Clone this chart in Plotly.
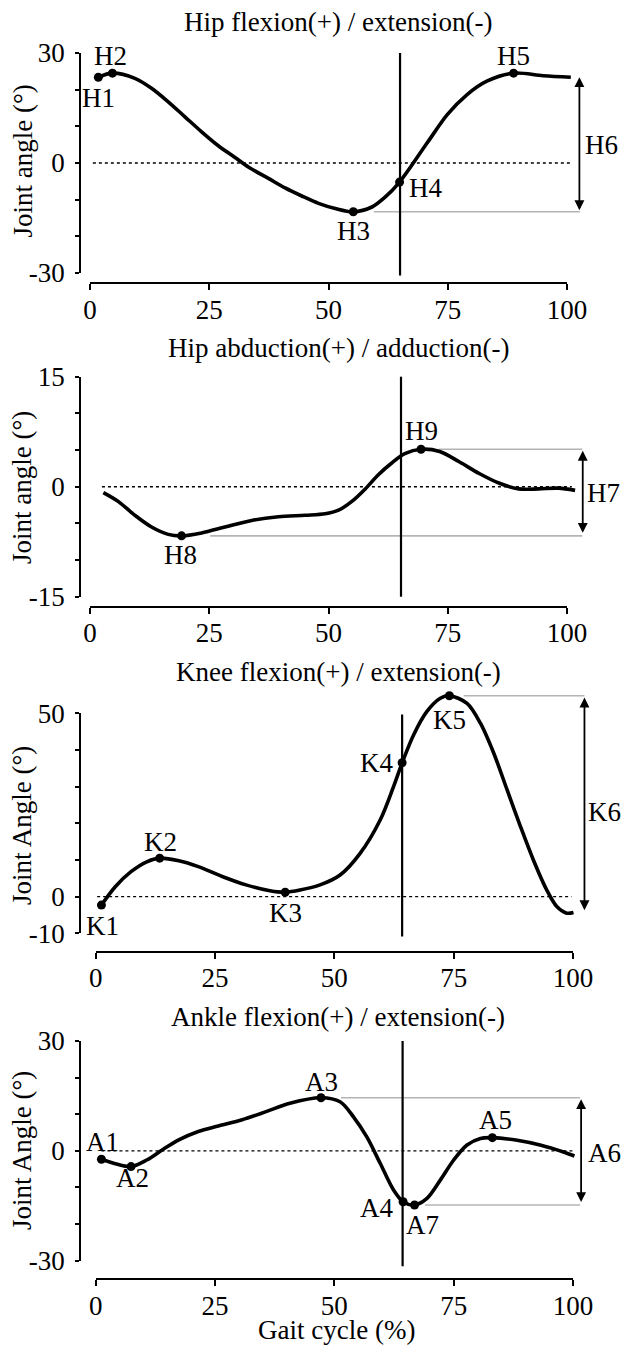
import plotly.graph_objects as go

FONT = "Liberation Serif"
FS = 27
W, H = 622, 1346

# ---------------- data ----------------
# Panel 1: hip flexion / extension
hipf_x = [1.75, 4.7, 9.4, 12.9, 16.4, 19.9, 23.4, 26.9, 30.4, 33.2, 37.4, 40.9, 44.4, 47.9, 51.4, 55.2, 59.1, 61.8, 64.9, 70.7, 74.9, 79.0, 83.2, 88.8, 95.0, 100.8]
hipf_y = [23.4, 24.5, 23.1, 20.4, 16.7, 12.6, 8.5, 4.7, 1.5, -1.1, -4.2, -6.8, -9.0, -11.0, -12.4, -13.3, -12.0, -9.4, -5.2, 5.5, 13.2, 18.6, 22.3, 24.5, 23.8, 23.4]
hipf_pts = ["H1", "H2", "H3", "H4", "H5"]
hipf_px = [1.75, 4.7, 55.2, 64.9, 88.8]
hipf_py = [23.4, 24.5, -13.3, -5.2, 24.5]

# Panel 2: hip abduction / adduction
hipa_x = [2.8, 5.9, 9.4, 12.9, 16.4, 19.2, 23.4, 28.3, 33.9, 39.5, 45.1, 49.3, 52.1, 54.9, 57.7, 60.4, 63.2, 66.0, 69.4, 73.3, 77.4, 81.6, 85.7, 89.9, 94.0, 98.2, 101.7]
hipa_y = [-0.8, -2.0, -3.9, -5.5, -6.5, -6.7, -6.3, -5.5, -4.6, -4.1, -3.9, -3.7, -3.2, -2.0, -0.3, 1.6, 3.2, 4.5, 5.1, 4.8, 3.4, 1.8, 0.5, -0.3, -0.3, -0.2, -0.5]
hipa_pts = ["H8", "H9"]
hipa_px = [19.2, 69.4]
hipa_py = [-6.7, 5.1]

# Panel 3: knee flexion / extension
knee_x = [1.2, 4.1, 7.4, 10.7, 13.4, 17.4, 21.5, 26.5, 31.5, 36.5, 39.7, 42.8, 47.0, 51.2, 55.4, 59.6, 62.4, 64.2, 66.6, 69.4, 72.2, 74.1, 77.8, 80.6, 83.4, 86.2, 89.0, 91.7, 94.5, 96.6, 98.7, 100.1]
knee_y = [-2.3, 2.7, 6.8, 9.5, 10.5, 9.8, 8.2, 5.5, 3.2, 1.6, 1.2, 1.8, 3.2, 5.9, 11.8, 20.9, 30.0, 36.5, 44.1, 50.5, 54.1, 54.8, 52.7, 47.3, 39.1, 29.1, 19.1, 10.0, 1.8, -2.7, -4.5, -4.3]
knee_pts = ["K1", "K2", "K3", "K4", "K5"]
knee_px = [1.2, 13.4, 39.7, 64.2, 74.1]
knee_py = [-2.3, 10.5, 1.2, 36.5, 54.8]

# Panel 4: ankle flexion / extension
ank_x = [1.2, 4.1, 7.4, 10.7, 14.0, 17.4, 21.5, 25.7, 30.7, 35.7, 40.7, 47.2, 51.2, 54.0, 56.8, 59.6, 62.4, 64.4, 66.8, 69.4, 72.2, 75.0, 77.8, 80.6, 83.1, 88.3, 93.1, 98.0, 100.3]
ank_y = [-2.3, -3.5, -4.3, -2.5, 0.3, 3.0, 5.3, 6.8, 8.5, 10.7, 13.0, 14.5, 13.4, 9.3, 3.8, -3.4, -10.7, -13.9, -14.8, -13.0, -8.0, -2.5, 1.6, 3.4, 3.6, 2.9, 1.6, -0.3, -1.4]
ank_pts = ["A1", "A2", "A3", "A4", "A7", "A5"]
ank_px = [1.2, 7.4, 47.2, 64.4, 66.8, 83.1]
ank_py = [-2.3, -4.3, 14.5, -13.9, -14.8, 3.6]

titles = ["Hip flexion(+) / extension(-)", "Hip abduction(+) / adduction(-)",
          "Knee flexion(+) / extension(-)", "Ankle flexion(+) / extension(-)"]
ytitles = ["Joint angle (°)", "Joint angle (°)", "Joint Angle (°)", "Joint Angle (°)"]
xtick_vals = [0, 25, 50, 75, 100]
range_labels = ["H6", "H7", "K6", "A6"]
toe_off = [65.0, 65.2, 64.2, 64.3]


# ---------------- layout helpers ----------------
def fy(p):
    return 1 - p / H


def fx(p):
    return p / W


def lin_range(dom_lo_px, dom_hi_px, v1, p1, v2, p2):
    """Axis range so that value v1 sits at pixel p1 and v2 at pixel p2."""
    k = (v2 - v1) / (p2 - p1)
    return [v1 + (dom_lo_px - p1) * k, v1 + (dom_hi_px - p1) * k]


panels = [
    dict(cx=hipf_x, cy=hipf_y, pts=hipf_pts, px=hipf_px, py=hipf_py,
         xpix=(90, 567), ypix=(53, 273), xline=283.3, top=30,
         yt=[-30, -20, -10, 0, 10, 20, 30], ylab=[-30, 0, 30],
         vl=(-30.7, 30), zero=(0.6, 100.6), gray=[(59.5, 102.7, -13.3)],
         arrow=(102.6, 23.4, -13.3), alab=(107.2, 5.0),
         labs=[(1.8, 17.7), (4.3, 29.3), (55.2, -18.6), (70.3, -6.8), (88.8, 29.3)],
         title_y=22, ytitle_y=161.5),
    dict(cx=hipa_x, cy=hipa_y, pts=hipa_pts, px=hipa_px, py=hipa_py,
         xpix=(90, 567), ypix=(376.7, 596.7), xline=607, top=365,
         yt=[-15, -10, -5, 0, 5, 10, 15], ylab=[-15, 0, 15],
         vl=(-15, 15), zero=(2.5, 101), gray=[(73.1, 103.2, 5.1), (25.2, 103.2, -6.7)],
         arrow=(103.3, 4.9, -6.5), alab=(107.7, -0.9),
         labs=[(19.0, -9.3), (69.4, 7.6)],
         title_y=348, ytitle_y=488),
    dict(cx=knee_x, cy=knee_y, pts=knee_pts, px=knee_px, py=knee_py,
         xpix=(95.7, 573), ypix=(713.3, 933.3), xline=951.7, top=688,
         yt=[-10, 0, 10, 20, 30, 40, 50], ylab=[-10, 0, 50],
         vl=(-10.9, 49.7), zero=(0.3, 99.7), gray=[(77.1, 102.4, 54.8)],
         arrow=(102.4, 54.3, -4.1), alab=(106.7, 23.2),
         labs=[(1.4, -8.0), (13.6, 15.0), (39.8, -4.5), (58.9, 36.4), (74.1, 48.2)],
         title_y=671.7, ytitle_y=826),
    dict(cx=ank_x, cy=ank_y, pts=ank_pts, px=ank_px, py=ank_py,
         xpix=(95.7, 573), ypix=(1041, 1260.7), xline=1279.3, top=1030,
         yt=[-30, -20, -10, 0, 10, 20, 30], ylab=[-30, 0, 30],
         vl=(-31.5, 30), zero=(1.2, 100), gray=[(51.4, 101.5, 14.5), (69.0, 101.5, -14.8)],
         arrow=(101.7, 14.1, -14.4), alab=(106.7, -0.5),
         labs=[(1.4, 2.5), (7.8, -7.5), (47.4, 18.9), (58.9, -15.6), (68.5, -20.3), (83.7, 8.4)],
         title_y=1016.7, ytitle_y=1151),
]

fig = go.Figure()
annotations = []
layout_axes = {}
tfont = dict(family=FONT, size=FS, color="black")

for i, p in enumerate(panels):
    n = "" if i == 0 else str(i + 1)
    xa, ya = "x" + n, "y" + n
    sx, sy = "x" + str(i + 5), "y" + str(i + 5)

    # zero dashed line
    fig.add_trace(go.Scatter(x=list(p["zero"]), y=[0, 0], mode="lines",
                             line=dict(color="black", width=1.4, dash="dot"),
                             xaxis=xa, yaxis=ya, hoverinfo="skip"))
    # gray reference lines
    for g in p["gray"]:
        fig.add_trace(go.Scatter(x=[g[0], g[1]], y=[g[2], g[2]], mode="lines",
                                 line=dict(color="#b4b4b4", width=1.6),
                                 xaxis=xa, yaxis=ya, hoverinfo="skip"))
    # toe-off vertical line
    fig.add_trace(go.Scatter(x=[toe_off[i], toe_off[i]], y=list(p["vl"]), mode="lines",
                             line=dict(color="black", width=2.2),
                             xaxis=xa, yaxis=ya, hoverinfo="skip"))
    # curve
    fig.add_trace(go.Scatter(x=p["cx"], y=p["cy"], mode="lines",
                             line=dict(color="black", width=3.6, shape="spline", smoothing=0.9),
                             xaxis=xa, yaxis=ya, hoverinfo="skip"))
    # event points
    fig.add_trace(go.Scatter(x=p["px"], y=p["py"], mode="markers",
                             marker=dict(color="black", size=9),
                             xaxis=xa, yaxis=ya, hoverinfo="skip", cliponaxis=False))
    # dummy trace that creates the spine subplot
    fig.add_trace(go.Scatter(x=[None], y=[None], mode="lines", xaxis=sx, yaxis=sy,
                             hoverinfo="skip"))

    # point labels
    for name, (lx, ly) in zip(p["pts"], p["labs"]):
        annotations.append(dict(x=lx, y=ly, xref=xa, yref=ya, text=name, showarrow=False,
                                font=tfont))
    # range arrow
    ax_x, y_top, y_bot = p["arrow"]
    annotations.append(dict(x=ax_x, y=y_top, ax=ax_x, ay=y_bot, xref=xa, yref=ya,
                            axref=xa, ayref=ya, text="", showarrow=True,
                            arrowhead=2, startarrowhead=2, arrowside="end+start",
                            arrowsize=1.1, startarrowsize=1.1, arrowwidth=1.8, arrowcolor="black",
                            standoff=0, startstandoff=0))
    annotations.append(dict(x=p["alab"][0], y=p["alab"][1], xref=xa, yref=ya,
                            text=range_labels[i], showarrow=False, font=tfont))
    # panel title
    annotations.append(dict(x=fx(338), y=fy(p["title_y"]), xref="paper", yref="paper",
                            text=titles[i], showarrow=False, xanchor="center", yanchor="middle",
                            font=tfont))
    # y title
    annotations.append(dict(x=fx(22), y=fy(p["ytitle_y"]), xref="paper", yref="paper",
                            text=ytitles[i], showarrow=False, textangle=-90,
                            xanchor="center", yanchor="middle", font=tfont))

    # data axes (invisible, wide)
    x0p, x1p = p["xpix"]
    ytop_px, ybot_px = p["ypix"]
    ymin, ymax = p["yt"][0], p["yt"][-1]
    dom_x = (80, 620)
    dom_y = (p["top"], p["xline"])
    layout_axes["xaxis" + n] = dict(domain=[fx(dom_x[0]), fx(dom_x[1])],
                                    range=lin_range(dom_x[0], dom_x[1], 0, x0p, 100, x1p),
                                    anchor=ya, visible=False, fixedrange=True, automargin=False)
    yr = lin_range(dom_y[1], dom_y[0], ymin, ybot_px, ymax, ytop_px)
    layout_axes["yaxis" + n] = dict(domain=[fy(dom_y[1]), fy(dom_y[0])], range=yr,
                                    anchor=xa, visible=False, fixedrange=True, automargin=False)

    # spine axes (detached, drawn exactly over the tick extents)
    ytext = [str(v) if v in p["ylab"] else "" for v in p["yt"]]
    layout_axes["xaxis" + str(i + 5)] = dict(
        domain=[fx(x0p), fx(x1p)], range=[0, 100], anchor="free", position=fy(p["xline"]),
        showgrid=False, zeroline=False, showline=True, linecolor="black", linewidth=1.7,
        tickmode="array", tickvals=xtick_vals, ticktext=[str(v) for v in xtick_vals],
        ticks="outside", ticklen=6, tickwidth=1.7, tickcolor="black", ticklabelstandoff=-4,
        tickfont=tfont, fixedrange=True, automargin=False)
    layout_axes["yaxis" + str(i + 5)] = dict(
        domain=[fy(ybot_px), fy(ytop_px)], range=[ymin, ymax], anchor="free", position=fx(80),
        showgrid=False, zeroline=False, showline=True, linecolor="black", linewidth=1.7,
        tickmode="array", tickvals=p["yt"], ticktext=ytext,
        ticks="outside", ticklen=4, tickwidth=1.7, tickcolor="black",
        ticklabelstandoff=5, tickfont=tfont, fixedrange=True, automargin=False)

annotations.append(dict(x=fx(336), y=fy(1330), xref="paper", yref="paper",
                        text="Gait cycle (%)", showarrow=False, xanchor="center", yanchor="middle",
                        font=tfont))

fig.update_layout(width=W, height=H,
                  margin=dict(l=0, r=0, t=0, b=0, pad=0, autoexpand=False),
                  paper_bgcolor="white", plot_bgcolor="rgba(0,0,0,0)", showlegend=False,
                  annotations=annotations, **layout_axes)

fig.write_html("out.html", config={"displayModeBar": False},
               post_script="document.body.style.margin='0';")
